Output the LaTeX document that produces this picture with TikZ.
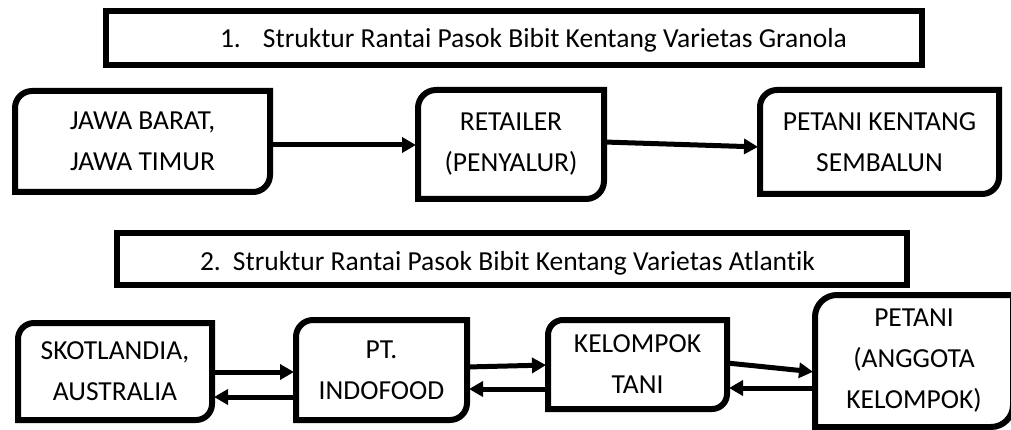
\documentclass[tikz,border=0pt]{standalone}
\usepackage{fontspec}
\setmainfont{Carlito}[Ligatures=NoCommon]
\usetikzlibrary{arrows.meta}
\tikzset{
  boxnode/.style={minimum width=#1, inner sep=0pt, outer sep=0pt, align=center,
    font=\fontsize{27.5}{41}\selectfont},
  boxline/.style={line width=6pt, line join=miter},
  titleline/.style={line width=5.5pt, line join=miter},
  flow/.style={line width=5pt, -{Triangle[length=14pt,width=15pt]}, shorten >=2pt},
  titletext/.style={inner sep=0pt, outer sep=0pt, anchor=base west, font=\fontsize{27.5}{32}\selectfont}
}
\newcommand\diagrect[2]{%
  \draw[boxline] ([yshift=-#2]#1.north west) arc[start angle=180,end angle=90,radius=#2]
    -- (#1.north east) -- ([yshift=#2]#1.south east)
    arc[start angle=0,end angle=-90,radius=#2] -- (#1.south west) -- cycle;}
\begin{document}
\begin{tikzpicture}[x=1pt,y=-1pt]
\useasboundingbox (0,0) rectangle (1011,430);
% title 1
\node[minimum width=816pt, minimum height=54pt, inner sep=0pt, outer sep=0pt] (t1) at (514,38) {};
\draw[titleline] (t1.north west) rectangle (t1.south east);
\node[titletext] (t1txt) at (220,48) {\makebox[43pt][l]{1.}Struktur Rantai Pasok Bibit Kentang Varietas Granola};
% row 1
\node[boxnode=255pt, minimum height=101pt] (a) at (142.5,141.5) {JAWA BARAT,\\JAWA TIMUR};
\node[boxnode=186pt, minimum height=109pt] (b) at (511,144.5) {RETAILER\\(PENYALUR)};
\node[boxnode=239pt, minimum height=104pt] (c) at (879.5,142) {PETANI KENTANG\\SEMBALUN};
\diagrect{a}{17pt}
\diagrect{b}{18pt}
\diagrect{c}{17pt}
\draw[flow] ([yshift=-3.5pt]a.east) -- ([yshift=-0.5pt]b.west);
\draw[flow] ([yshift=2.5pt]b.east) -- ([yshift=-5pt]c.west);
% title 2
\node[minimum width=790pt, minimum height=52pt, inner sep=0pt, outer sep=0pt] (t2) at (512,259) {};
\begin{scope}
\clip (100,230) rectangle (920,274);
\node[titletext] (t2txt) at (200,270) {\makebox[33pt][l]{2.}Struktur Rantai Pasok Bibit Kentang Varietas Atlantik};
\end{scope}
\draw[titleline] (t2.north west) rectangle (t2.south east);
% row 2
\node[boxnode=194pt, minimum height=97pt] (d) at (115,371.5) {SKOTLANDIA,\\AUSTRALIA};
\node[boxnode=171pt, minimum height=100pt] (e) at (381.5,370) {PT.\\INDOFOOD};
\node[boxnode=179pt, minimum height=89pt] (f) at (637.5,364.5) {KELOMPOK\\TANI};
\node[boxnode=198pt, minimum height=132pt] (g) at (914,361) {PETANI\\(ANGGOTA\\KELOMPOK)};
\diagrect{d}{16pt}
\diagrect{e}{17pt}
\diagrect{f}{15pt}
\diagrect{g}{22pt}
\draw[flow] ([yshift=-0.5pt]d.east) -- ([yshift=-2pt]e.west);
\draw[flow] ([yshift=-27pt]e.west) -- ([yshift=-25.5pt]d.east);
\draw[flow] ([yshift=3pt]e.east) -- ([yshift=-0.5pt]f.west);
\draw[flow] ([yshift=-24.5pt]f.west) -- ([yshift=-19pt]e.east);
\draw[flow] ([yshift=1.5pt]f.east) -- ([yshift=-11pt]g.west);
\draw[flow] ([yshift=-27pt]g.west) -- ([yshift=-23.5pt]f.east);
\end{tikzpicture}
\end{document}
